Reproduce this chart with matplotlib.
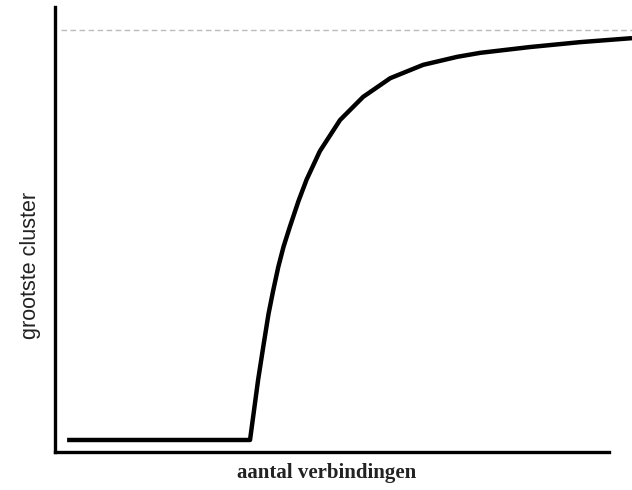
import numpy as np
import matplotlib
matplotlib.use('Agg')
import matplotlib.pyplot as plt

# curve (arbitrary units, 0-100 on both axes)
x = [2.1, 33.8, 35.2, 36.1, 37.0, 37.8, 38.7, 39.6, 40.7, 42.2, 43.6,
     45.9, 49.4, 53.4, 58.1, 63.8, 69.7, 73.7, 82.3, 91.0, 100.0]
y = [2.7, 2.7, 16.2, 23.7, 31.0, 36.2, 41.6, 46.1, 50.6, 56.4, 61.2,
     67.6, 74.6, 79.8, 84.0, 87.0, 88.8, 89.7, 91.0, 92.1, 93.0]
limit = 94.8

fig = plt.figure(figsize=(6.32, 4.9), dpi=100)
ax = fig.add_axes([55/632, 38/490, 1 - 55/632, 445/490])

ax.plot(x, y, color='black', linewidth=3.2, clip_on=False,
        solid_capstyle='butt', solid_joinstyle='round')
ax.axhline(limit, xmin=0.01, xmax=1, color='#bbbbbb', linewidth=1, linestyle=(0, (4, 2.5)))

ax.set_xlim(0, 100)
ax.set_ylim(0, 100)
ax.set_xticks([])
ax.set_yticks([])
for s in ['top', 'right']:
    ax.spines[s].set_visible(False)
for s in ['left', 'bottom']:
    ax.spines[s].set_linewidth(2.4)
ax.spines['bottom'].set_bounds(0, 96)

ax.set_xlabel('aantal verbindingen', fontsize=15, family='Liberation Serif',
              fontweight='bold', color='#222222', va='center')
ax.xaxis.set_label_coords(0.47, -0.047)
ax.set_ylabel('grootste cluster', fontsize=15.5, family='Liberation Sans',
              color='#222222', va='center')
ax.yaxis.set_label_coords(-0.043, 0.42)

fig.savefig('out.png', dpi=100)
